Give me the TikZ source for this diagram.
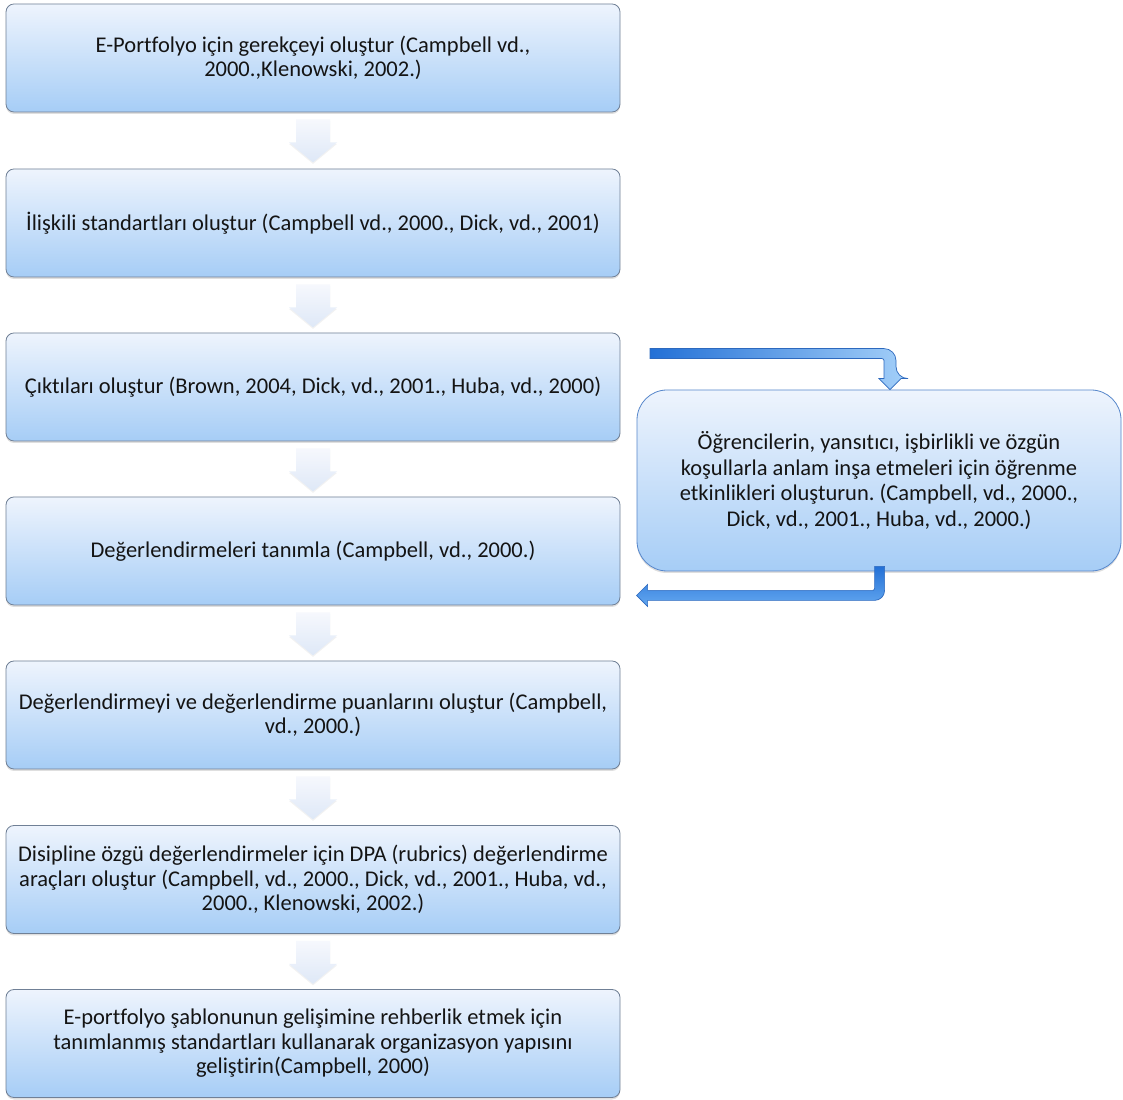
\documentclass[tikz,border=0pt]{standalone}
\usepackage{fontspec}
\setmainfont{Carlito}[Ligatures={NoCommon}]
\usetikzlibrary{shadows,calc}
\definecolor{boxtop}{RGB}{238,244,253}
\definecolor{boxbot}{RGB}{166,205,246}
\definecolor{boxline}{RGB}{112,128,150}
\definecolor{chevtop}{RGB}{246,248,253}
\definecolor{chevbot}{RGB}{222,232,247}
\definecolor{arrdark}{RGB}{35,112,214}
\definecolor{arrlight}{RGB}{160,205,248}
\definecolor{arrmid}{RGB}{100,168,240}
\definecolor{arrline}{RGB}{45,105,190}
\definecolor{txt}{RGB}{20,20,20}
\frenchspacing
\begin{document}
\begin{tikzpicture}[x=1pt,y=1pt,
  stepbox/.style={rectangle, rounded corners=8pt, draw=boxline, line width=0.8pt,
    top color=boxtop, bottom color=boxbot, minimum width=614pt, minimum height=108pt,
    align=center, text=txt, font=\fontsize{22.5}{24.5}\selectfont, inner sep=0pt,
    drop shadow={shadow xshift=0pt, shadow yshift=-2pt, opacity=0.25}},
  sidebox/.style={rectangle, rounded corners=30pt, draw=arrline!80, line width=0.8pt,
    top color=boxtop, bottom color=boxbot, minimum width=484pt, minimum height=181pt,
    align=center, text=txt, font=\fontsize{22.5}{25.5}\selectfont, inner sep=0pt,
    drop shadow={shadow xshift=0pt, shadow yshift=-2pt, opacity=0.25}},
  chev/.style={top color=chevtop, bottom color=chevbot, draw=none,
    drop shadow={shadow xshift=0pt, shadow yshift=-1.5pt, opacity=0.10}},
  bentarrow/.style={draw=arrline, line width=0.7pt}
]
\path[use as bounding box, fill=white] (0,0) rectangle (1123,1099);

\node[stepbox] (b1) at (313,1041) {E-Portfolyo için gerekçeyi oluştur (Campbell vd.,\\2000.,Klenowski, 2002.)};
\node[stepbox] (b2) at (313,876) {İlişkili standartları oluştur (Campbell vd., 2000., Dick, vd., 2001)};
\node[stepbox] (b3) at (313,712) {Çıktıları oluştur (Brown, 2004, Dick, vd., 2001., Huba, vd., 2000)};
\node[stepbox] (b4) at (313,548) {Değerlendirmeleri tanımla (Campbell, vd., 2000.)};
\node[stepbox] (b5) at (313,384) {Değerlendirmeyi ve değerlendirme puanlarını oluştur (Campbell,\\vd., 2000.)};
\node[stepbox] (b6) at (313,219.5) {Disipline özgü değerlendirmeler için DPA (rubrics) değerlendirme\\araçları oluştur (Campbell, vd., 2000., Dick, vd., 2001., Huba, vd.,\\2000., Klenowski, 2002.)};
\node[stepbox] (b7) at (313,55.5) {E-portfolyo şablonunun gelişimine rehberlik etmek için\\tanımlanmış standartları kullanarak organizasyon yapısını\\geliştirin(Campbell, 2000)};

\node[sidebox] (r) at (879,618.5) {Öğrencilerin, yansıtıcı, işbirlikli ve özgün\\koşullarla anlam inşa etmeleri için öğrenme\\etkinlikleri oluşturun. (Campbell, vd., 2000.,\\Dick, vd., 2001., Huba, vd., 2000.)};

% chevron connectors
\foreach \a/\b in {b1/b2,b2/b3,b3/b4,b4/b5,b5/b6,b6/b7}{
  \begin{scope}[shift={(\a.south)}]
    \path[chev] (-17,-7) -- (17,-7) -- (17,-30) -- (24,-30) -- (0,-50) -- (-24,-30) -- (-17,-30) -- cycle;
  \end{scope}
}

% top bent arrow into side box
\coordinate (tipT) at ($(r.north)+(11,0)$);
\begin{scope}[shift={(tipT)}]
  \path[bentarrow, left color=arrdark, right color=arrlight]
    (-240,41) [rounded corners=12pt] -- (6,41) -- (6,11) [sharp corners] -- (11,11) -- (0,0) -- (-11,11) -- (-6,11)
    [rounded corners=2pt] -- (-6,31) [sharp corners] -- (-240,31) -- cycle;
\end{scope}

% bottom bent arrow from side box back to step 4
\coordinate (tipB) at ($(r.south west)+(0,-24)$);
\begin{scope}[shift={(tipB)}]
  \path[bentarrow, top color=arrdark, bottom color=arrmid]
    (238,29) -- (248,29) [rounded corners=10pt] -- (248,-5) [sharp corners] -- (11,-5) -- (11,-11) -- (0,0) -- (11,11) -- (11,5)
    [rounded corners=2pt] -- (238,5) [sharp corners] -- cycle;
\end{scope}
\end{tikzpicture}
\end{document}
